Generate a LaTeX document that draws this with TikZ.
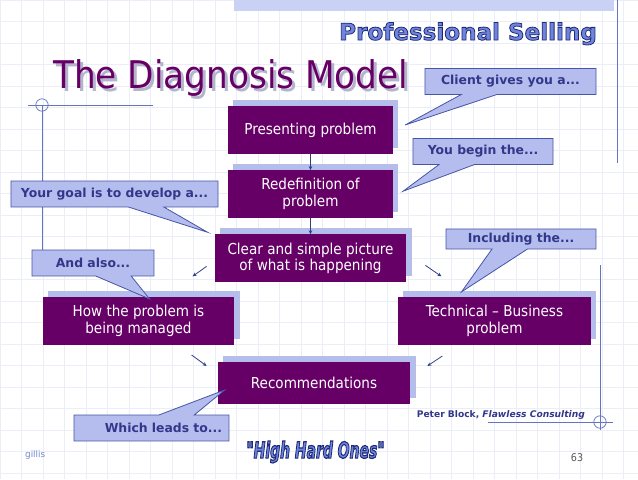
\documentclass[tikz,border=0pt]{standalone}
\usepackage{fontspec}
\setmainfont{DejaVu Sans}
\newfontfamily\condfont{DejaVu Sans Condensed}
\usetikzlibrary{arrows.meta,positioning,shapes.callouts,shadows}
\definecolor{DiagPurple}{HTML}{660066}
\definecolor{DiagShadow}{HTML}{B5BDEA}
\definecolor{NoteFill}{HTML}{B4BDEE}
\definecolor{NoteLine}{HTML}{4655A6}
\definecolor{NoteText}{HTML}{33378A}
\definecolor{FlowNavy}{HTML}{2F3E88}
\definecolor{FrameLine}{HTML}{6474BE}
\definecolor{GridLine}{HTML}{ECEEF7}
\definecolor{BarBlue}{HTML}{C9D1F5}
\definecolor{SellBlue}{HTML}{6F84DA}
\definecolor{TitleShade}{HTML}{B4B4CC}
\definecolor{GillisBlue}{HTML}{7088D0}
\definecolor{PageGray}{HTML}{5A5A5A}
% outlined lettering (fill, then a dark navy stroke)
\newcommand{\outlined}[1]{%
  \special{pdf:literal direct q 2 Tr 0.9 w 0.118 0.165 0.471 RG}#1\special{pdf:literal direct Q}}

\begin{document}
\begin{tikzpicture}[
  x=1.128pt, y=-1.128pt,
  font=\condfont,
  node distance=18pt,
  stage/.style={
    fill=DiagPurple,
    text=white,
    font=\condfont\fontsize{17}{19}\selectfont,
    align=center,
    minimum height=54pt,
    minimum width=#1,
    inner sep=2pt,
    copy shadow={shadow xshift=6pt, shadow yshift=7pt, fill=DiagShadow, draw=none}
  },
  stage/.default=186pt,
  note/.style={
    rectangle callout,
    fill=NoteFill,
    draw=NoteLine,
    line width=0.9pt,
    text=NoteText,
    font=\rmfamily\bfseries\fontsize{14}{16}\selectfont,
    inner sep=2pt,
    minimum height=29.5pt,
    callout pointer width=40pt
  },
  flow/.style={-{Stealth[length=4.5pt,width=4pt]},line width=0.9pt,draw=FlowNavy},
  frame/.style={draw=FrameLine,line width=0.8pt}
]
  % slide background
  \useasboundingbox (0,0) rectangle (638,479);
  \fill[white] (0,0) rectangle (638,479);
  \draw[GridLine, line width=0.3pt, step=24.25pt] (0,0) grid (638,479);
  \fill[BarBlue] (234,0) rectangle (614,11);
  \draw[frame] (617,0) -- (617,163);
  \draw[frame] (28,105) -- (153,105);
  \draw[frame] (42,105) -- (42,250);
  \draw[frame] (42,105) circle[radius=7pt];
  \draw[frame] (600,265) -- (600,430);
  \draw[frame] (488,422) -- (613,422);
  \draw[frame] (600,422) circle[radius=7pt];

  % headings
  \node[anchor=base east, text=SellBlue, font=\rmfamily\bfseries\fontsize{26}{30}\selectfont]
    (brand) at (600,40) {\outlined{Professional Selling}};
  \node[anchor=base west, text=TitleShade, font=\condfont\fontsize{43}{48}\selectfont]
    (titleshade) at (53,91) {The Diagnosis Model};
  \node[anchor=base west, text=DiagPurple, font=\condfont\fontsize{43}{48}\selectfont]
    (title) at (50,88) {The Diagnosis Model};

  % model stages
  \node[stage] (present) at (310.5,130) {Presenting problem};
  \node[stage, below=of present] (redef) {Redefinition of\\problem};
  \node[stage=216pt, below=of redef] (clear) {Clear and simple picture\\of what is happening};
  \node[stage=216pt] (managed) at (138.5,321) {How the problem is\\being managed};
  \node[stage=218pt] (tech) at (494.5,321) {Technical \textendash{} Business\\problem};
  \node[stage=217pt, minimum height=47pt] (recom) at (314,383) {Recommendations};

  \draw[flow] (present) -- (redef);
  \draw[flow] (redef) -- (clear);

  \coordinate (leftfrom) at ([shift={(-8,8)}]clear.west);
  \coordinate (leftto) at ([shift={(-22,18)}]clear.west);
  \coordinate (rightfrom) at ([shift={(19,7)}]clear.east);
  \coordinate (rightto) at ([shift={(35,18)}]clear.east);
  \coordinate (lowleftfrom) at ([shift={(-26,-28)}]recom.west);
  \coordinate (lowleftto) at ([shift={(-11,-17)}]recom.west);
  \coordinate (lowrightfrom) at ([shift={(32,-27)}]recom.east);
  \coordinate (lowrightto) at ([shift={(17,-17)}]recom.east);
  \draw[flow] (leftfrom) -- (leftto);
  \draw[flow] (rightfrom) -- (rightto);
  \draw[flow] (lowleftfrom) -- (lowleftto);
  \draw[flow] (lowrightfrom) -- (lowrightto);

  % callouts
  \coordinate (clienttip) at ([shift={(12,-5)}]present.east);
  \coordinate (begintip) at ([shift={(10,-3)}]redef.east);
  \coordinate (goaltip) at ([shift={(-7,-2)}]clear.north west);
  \coordinate (alsotip) at ([shift={(11,2)}]managed.north);
  \coordinate (incltip) at ([shift={(-33,-5)}]tech.north);
  \coordinate (leadstip) at ([shift={(7,-14)}]recom.south west);

  \node[note, minimum width=193pt, callout absolute pointer={(clienttip)}]
    (clientnote) at (510.5,81.5) {Client gives you a...};
  \node[note, minimum width=158pt, callout absolute pointer={(begintip)}]
    (beginnote) at (483,151.5) {You begin the...};
  \node[note, minimum width=233.5pt, minimum height=29.3pt, callout absolute pointer={(goaltip)}]
    (goalnote) at (114.5,194) {Your goal is to develop a...};
  \node[note, minimum width=137.6pt, minimum height=29.3pt, callout absolute pointer={(alsotip)}]
    (alsonote) at (93,263) {And also...};
  \node[note, minimum width=169pt, minimum height=22.6pt, callout absolute pointer={(incltip)}]
    (inclnote) at (521,239) {Including the...};
  \node[note, inner xsep=7.9pt, text width=159pt, align=right, minimum height=29.3pt,
    callout absolute pointer={(leadstip)}]
    (leadsnote) at (151.5,428) {Which leads to...};

  % footer
  \node[anchor=base east, text=NoteText, font=\rmfamily\bfseries\fontsize{10.3}{12}\selectfont]
    (source) at (588,417) {Peter Block, \textit{Flawless Consulting}};
  \node[text=SellBlue, font=\condfont\bfseries\itshape\fontsize{17.5}{20}\selectfont]
    (motto) at (315.5,452) {\scalebox{1}[1.45]{\outlined{"High Hard Ones"}}};
  \node[anchor=base west, text=GillisBlue, font=\rmfamily\fontsize{10}{12}\selectfont]
    (author) at (22,457) {gillis};
  \node[text=PageGray, font=\condfont\fontsize{12}{14}\selectfont]
    (pagenum) at (577,458) {63};
\end{tikzpicture}
\end{document}
